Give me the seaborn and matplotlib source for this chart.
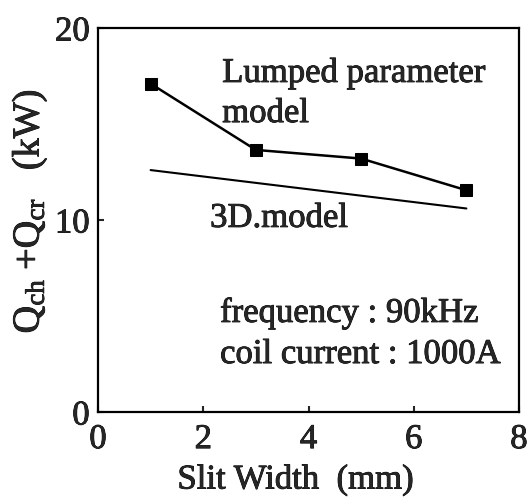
import matplotlib
matplotlib.use("Agg")
import matplotlib.pyplot as plt
import matplotlib.patheffects as pe
import seaborn as sns
import pandas as pd

# Slit width (mm) and total loss Qch + Qcr (kW)
slit_lumped = [1, 3, 5, 7]
loss_lumped = [17.1, 13.65, 13.2, 11.55]
slit_3d = [1, 7]
loss_3d = [12.6, 10.6]

x_ticks = [0, 2, 4, 6, 8]
y_ticks = [0, 10, 20]

sns.set_style("ticks")
plt.rcParams["font.family"] = ["Liberation Serif", "DejaVu Serif"]
plt.rcParams["mathtext.fontset"] = "custom"
plt.rcParams["mathtext.rm"] = "Liberation Serif"
plt.rcParams["mathtext.it"] = "Liberation Serif:italic"

FS = 25
ink = [pe.withStroke(linewidth=0.6, foreground="black")]

fig = plt.figure(figsize=(5.27, 5.0), dpi=100)
ax = fig.add_axes([98 / 527, 1 - 412 / 500, (519 - 98) / 527, (412 - 28) / 500])

df_l = pd.DataFrame({"w": slit_lumped, "q": loss_lumped})
df_3 = pd.DataFrame({"w": slit_3d, "q": loss_3d})

sns.lineplot(data=df_l, x="w", y="q", ax=ax, color="black", lw=1.8,
             marker="s", markersize=8, markeredgecolor="black")
sns.lineplot(data=df_3, x="w", y="q", ax=ax, color="black", lw=1.5)

ax.set_xlim(0, 8)
ax.set_ylim(0, 20)
ax.set_xticks(x_ticks)
ax.set_yticks(y_ticks)
ax.tick_params(direction="in", length=4, width=1.5, labelsize=FS)
ax.tick_params(axis="x", pad=8)
ax.tick_params(axis="y", pad=6)
for lab in ax.get_xticklabels() + ax.get_yticklabels():
    lab.set_path_effects(ink)
for s in ax.spines.values():
    s.set_linewidth(1.6)
    s.set_color("black")

ax.set_xlabel("Slit Width  (mm)", fontsize=FS, va="center", path_effects=ink)
ax.xaxis.set_label_coords(0.47, -0.177)
ax.set_ylabel(r"Q$_{\rm ch}$ +Q$_{\rm cr}$   (kW)", fontsize=27.5, va="center",
              path_effects=ink)
ax.yaxis.set_label_coords(-0.162, 0.523)

notes = [
    (2.36, 17.19, "Lumped parameter"),
    (2.36, 15.1, "model"),
    (2.13, 9.64, "3D.model"),
    (2.32, 4.69, "frequency : 90kHz"),
    (2.32, 2.55, "coil current : 1000A"),
]
for x, y, s in notes:
    ax.text(x, y, s, fontsize=FS, va="baseline", path_effects=ink)

fig.savefig("out.png", dpi=100)
